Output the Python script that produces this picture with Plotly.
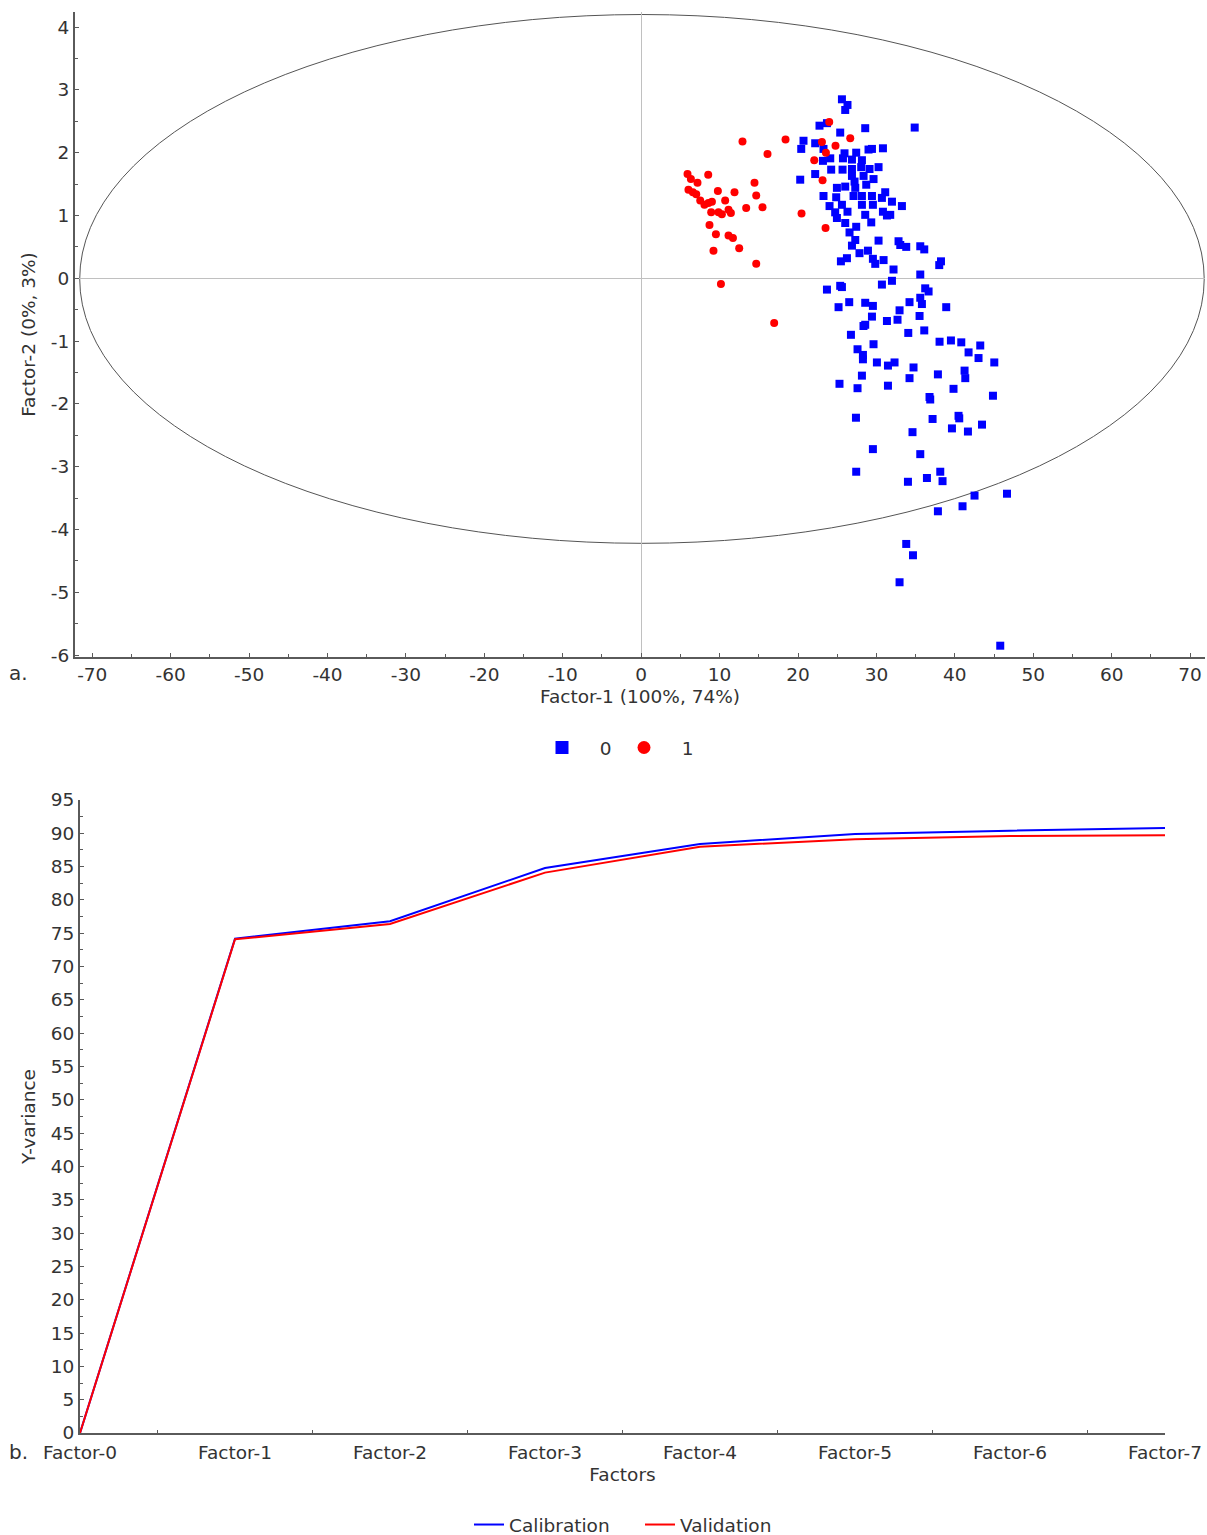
import plotly.graph_objects as go

# ---------------- Data: scores plot (panel a) ----------------
class0_x = [25.60, 26.31, 26.02, 22.74, 23.69, 25.38, 28.57, 20.70, 22.19, 20.41, 23.25, 25.93, 27.42, 28.99, 29.43,
            30.83, 23.18, 24.11, 25.73, 26.88, 28.15, 24.23, 25.68, 26.88, 28.06, 29.12, 30.27, 20.28, 22.19, 26.88,
            28.36, 29.63, 27.21, 28.70, 24.96, 26.02, 27.30, 23.25, 24.87, 27.08, 28.15, 29.43, 31.12, 30.70, 31.98,
            33.25, 24.02, 25.60, 28.15, 29.55, 24.74, 24.96, 26.31, 28.57, 30.83, 31.34, 31.76, 26.02, 27.42, 29.34,
            26.57, 27.30, 30.27, 26.88, 32.82, 33.04, 33.80, 27.84, 28.92, 25.47, 26.24, 29.55, 29.85, 30.91, 32.18,
            25.38, 25.60, 23.69, 30.70, 31.98, 35.59, 36.22, 36.65, 38.23, 38.01, 35.59, 36.10, 26.53, 25.17, 28.57,
            29.55, 34.22, 35.59, 35.80, 38.90, 32.95, 29.43, 28.57, 28.35, 31.34, 32.69, 35.50, 26.75, 29.63, 34.06,
            36.10, 38.05, 39.50, 40.82, 43.24, 27.59, 28.28, 28.28, 30.06, 31.47, 32.31, 41.75, 43.02, 45.03, 34.73,
            28.15, 34.22, 37.84, 41.24, 41.33, 25.29, 27.59, 31.47, 39.83, 36.77, 36.86, 44.86, 27.39, 37.16, 40.47,
            40.56, 39.63, 41.67, 43.46, 34.60, 29.55, 35.59, 27.42, 34.02, 36.44, 38.14, 38.43, 42.51, 46.65, 37.84,
            40.98, 33.80, 34.66, 32.95, 45.79, 34.88]
class0_y = [2.85, 2.76, 2.68, 2.43, 2.47, 2.32, 2.39, 2.19, 2.15, 2.06, 2.06, 1.99, 2.00, 2.05, 2.06,
            2.07, 1.87, 1.91, 1.91, 1.89, 1.88, 1.73, 1.73, 1.74, 1.77, 1.74, 1.77, 1.57, 1.66, 1.63,
            1.63, 1.58, 1.54, 1.49, 1.44, 1.46, 1.44, 1.31, 1.29, 1.31, 1.31, 1.31, 1.37, 1.28, 1.22,
            1.15, 1.15, 1.17, 1.17, 1.17, 1.05, 0.96, 1.06, 1.01, 1.06, 1.00, 1.01, 0.88, 0.82, 0.89,
            0.73, 0.61, 0.60, 0.52, 0.59, 0.53, 0.50, 0.40, 0.44, 0.27, 0.32, 0.31, 0.23, 0.29, 0.14,
            -0.12, -0.14, -0.18, -0.10, -0.04, 0.06, -0.16, -0.21, 0.27, 0.21, 0.51, 0.46, -0.38, -0.46, -0.39,
            -0.44, -0.38, -0.31, -0.41, -0.46, -0.51, -0.61, -0.74, -0.76, -0.68, -0.66, -0.60, -0.90, -1.05, -0.87,
            -0.83, -1.01, -0.99, -1.02, -1.07, -1.13, -1.22, -1.29, -1.34, -1.39, -1.34, -1.18, -1.27, -1.34, -1.42,
            -1.55, -1.59, -1.53, -1.47, -1.59, -1.68, -1.75, -1.71, -1.76, -1.89, -1.93, -1.87, -2.22, -2.24, -2.19,
            -2.23, -2.39, -2.44, -2.33, -2.45, -2.72, -2.80, -3.08, -3.24, -3.18, -3.08, -3.23, -3.46, -3.43, -3.71,
            -3.63, -4.23, -4.41, -4.84, -5.85, 2.40]

class1_x = [5.91, 6.34, 7.18, 8.55, 14.45, 14.67, 6.03, 6.59, 7.02, 9.78, 11.90, 7.53, 8.07, 8.58, 9.02,
            10.71, 13.39, 15.47, 8.93, 9.86, 10.29, 11.14, 11.44, 8.71, 9.53, 11.14, 11.70, 9.22, 12.50, 14.67,
            10.17, 16.96, 12.92, 16.11, 18.41, 23.98, 23.05, 24.78, 26.66, 23.56, 22.07, 23.13, 20.45, 23.51]
class1_y = [1.66, 1.58, 1.52, 1.65, 1.52, 1.32, 1.41, 1.37, 1.34, 1.39, 1.37, 1.24, 1.17, 1.20, 1.22,
            1.24, 1.12, 1.13, 1.05, 1.05, 1.02, 1.09, 1.04, 0.85, 0.70, 0.68, 0.64, 0.44, 0.48, 0.23,
            -0.09, -0.71, 2.18, 1.98, 2.21, 2.49, 2.17, 2.11, 2.23, 2.00, 1.88, 1.56, 1.03, 0.80]

ellipse_rx = [-71.6, 71.8]
ellipse_ry = [-4.22, 4.20]

scores_xticks = [-70, -60, -50, -40, -30, -20, -10, 0, 10, 20, 30, 40, 50, 60, 70]
scores_yticks = [-6, -5, -4, -3, -2, -1, 0, 1, 2, 3, 4]

# ---------------- Data: explained variance (panel b) ----------------
factors = ["Factor-0", "Factor-1", "Factor-2", "Factor-3", "Factor-4", "Factor-5", "Factor-6", "Factor-7"]
calibration = [0, 74.2, 76.8, 84.8, 88.4, 89.9, 90.4, 90.8]
validation = [0, 74.1, 76.4, 84.1, 88.0, 89.1, 89.6, 89.7]
variance_yticks = [0, 5, 10, 15, 20, 25, 30, 35, 40, 45, 50, 55, 60, 65, 70, 75, 80, 85, 90, 95]

W, H = 1207, 1544
FONT = "DejaVu Sans, Verdana, sans-serif"
FS = 18.5
AX = "#5a5a5a"
TXT = "#333333"

fig = go.Figure()

fig.add_trace(go.Scatter(
    x=class0_x, y=class0_y, mode="markers", name="0", showlegend=False,
    marker=dict(symbol="square", size=8, color="#0000FF", line=dict(width=0)),
    xaxis="x", yaxis="y"))
fig.add_trace(go.Scatter(
    x=class1_x, y=class1_y, mode="markers", name="1", showlegend=False,
    marker=dict(symbol="circle", size=8, color="#FF0000", line=dict(width=0)),
    xaxis="x", yaxis="y"))
# legend entries with larger symbols (as in the reference legend)
fig.add_trace(go.Scatter(
    x=[None], y=[None], mode="markers", name="   0",
    marker=dict(symbol="square", size=13, color="#0000FF", line=dict(width=0)),
    xaxis="x", yaxis="y", legend="legend"))
fig.add_trace(go.Scatter(
    x=[None], y=[None], mode="markers", name="   1",
    marker=dict(symbol="circle", size=13, color="#FF0000", line=dict(width=0)),
    xaxis="x", yaxis="y", legend="legend"))

fig.add_trace(go.Scatter(
    x=list(range(len(factors))), y=calibration, mode="lines", name="Calibration",
    line=dict(color="#0000FF", width=2), xaxis="x2", yaxis="y2", legend="legend2"))
fig.add_trace(go.Scatter(
    x=list(range(len(factors))), y=validation, mode="lines", name="Validation",
    line=dict(color="#FF0000", width=2), xaxis="x2", yaxis="y2", legend="legend2"))

fig.add_shape(type="circle", xref="x", yref="y",
              x0=ellipse_rx[0], x1=ellipse_rx[1], y0=ellipse_ry[0], y1=ellipse_ry[1],
              line=dict(color="#555555", width=1), layer="below")

tickfont = dict(family=FONT, size=FS, color=TXT)
titlefont = dict(family=FONT, size=FS, color=TXT)

fig.update_layout(
    width=W, height=H, autosize=False,
    margin=dict(l=0, r=0, t=0, b=0),
    paper_bgcolor="white", plot_bgcolor="white",
    font=dict(family=FONT, size=FS, color=TXT),
    xaxis=dict(
        domain=[75 / W, 1205 / W], range=[-72.2, 71.9], anchor="y", automargin=False,
        tickvals=scores_xticks, ticktext=[str(v) for v in scores_xticks],
        ticks="inside", ticklen=4, tickcolor=AX, tickwidth=1,
        minor=dict(dtick=5, ticks="inside", ticklen=3, tickcolor=AX),
        showline=True, linecolor=AX, linewidth=2, showgrid=False,
        zeroline=True, zerolinecolor="#c0c0c0", zerolinewidth=1,
        tickfont=tickfont,
        title=dict(text="Factor-1 (100%, 74%)", font=titlefont, standoff=6)),
    yaxis=dict(
        domain=[1 - 657 / H, 1 - 12 / H], range=[-6.03, 4.24], anchor="x", automargin=False,
        tickvals=scores_yticks, ticktext=[str(v) for v in scores_yticks],
        ticks="inside", ticklen=4, tickcolor=AX, tickwidth=1,
        minor=dict(dtick=0.5, ticks="inside", ticklen=3, tickcolor=AX),
        showline=True, linecolor=AX, linewidth=2, showgrid=False,
        zeroline=True, zerolinecolor="#c0c0c0", zerolinewidth=1,
        tickfont=tickfont,
        title=dict(text="Factor-2 (0%, 3%)", font=titlefont, standoff=10)),
    xaxis2=dict(
        domain=[80 / W, 1165 / W], range=[0, 7], anchor="y2", automargin=False,
        tickvals=list(range(len(factors))), ticktext=factors,
        ticks="", ticklabelstandoff=2,
        minor=dict(tickvals=[i + 0.5 for i in range(7)], ticks="inside", ticklen=3, tickcolor=AX),
        showline=True, linecolor=AX, linewidth=2, showgrid=False, zeroline=False,
        tickfont=tickfont,
        title=dict(text="Factors", font=titlefont, standoff=6)),
    yaxis2=dict(
        domain=[1 - 1433 / H, 1 - 800 / H], range=[0, 95], anchor="x2", automargin=False,
        tickvals=variance_yticks, ticktext=[str(v) for v in variance_yticks],
        ticks="inside", ticklen=4, tickcolor=AX, tickwidth=1,
        minor=dict(dtick=2.5, ticks="inside", ticklen=3, tickcolor=AX),
        showline=True, linecolor=AX, linewidth=2, showgrid=False, zeroline=False,
        tickfont=tickfont,
        title=dict(text="Y-variance", font=titlefont, standoff=10)),
    legend=dict(orientation="h", x=542 / W, xanchor="left", y=1 - 748 / H, yanchor="middle",
                entrywidth=37, entrywidthmode="pixels",
                font=dict(family=FONT, size=FS, color=TXT), bgcolor="rgba(0,0,0,0)"),
    legend2=dict(orientation="h", x=469 / W, xanchor="left", y=1 - 1525 / H, yanchor="middle",
                 entrywidth=126, entrywidthmode="pixels",
                 font=dict(family=FONT, size=FS, color=TXT), bgcolor="rgba(0,0,0,0)"),
    annotations=[
        dict(text="a.", x=18 / W, y=1 - 673 / H, xref="paper", yref="paper", showarrow=False,
             xanchor="center", yanchor="middle", font=dict(family=FONT, size=20, color=TXT)),
        dict(text="b.", x=18 / W, y=1 - 1452 / H, xref="paper", yref="paper", showarrow=False,
             xanchor="center", yanchor="middle", font=dict(family=FONT, size=20, color=TXT)),
    ],
)

fig.write_html("out.html")
